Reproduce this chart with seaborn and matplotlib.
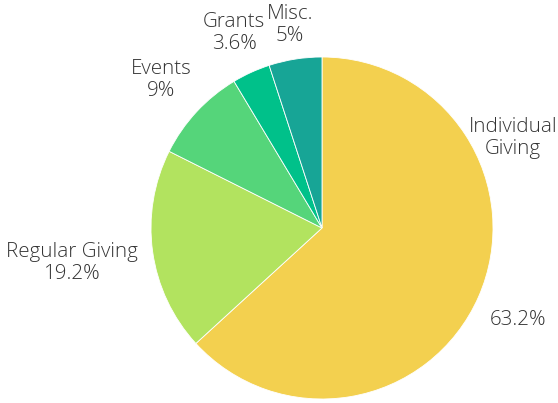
import numpy as np
import matplotlib
matplotlib.use('Agg')
import matplotlib.pyplot as plt
import seaborn as sns

# --- data ---
categories = ['Individual Giving', 'Regular Giving', 'Events', 'Grants', 'Misc.']
shares = [63.2, 19.2, 9, 3.6, 5]
pct_labels = ['63.2%', '19.2%', '9%', '3.6%', '5%']
colors = ['#F3D04F', '#B2E35F', '#55D57A', '#00C18A', '#17A596']

sns.set_style("white")
plt.rcParams['font.family'] = ['Open Sans', 'DejaVu Sans']

fig = plt.figure(figsize=(5.58, 4.03), dpi=100)
ax = fig.add_axes([0, 0, 1, 1])

wedges, _ = ax.pie(shares, colors=colors, startangle=90, counterclock=False,
                   radius=1, wedgeprops=dict(edgecolor='white', linewidth=0.6))

# label placement (radius, angle nudge in degrees) per slice
label_r = [1.266, 1.476, 1.279, 1.251, 1.202]
label_nudge = [-1.3, 0, 0.2, -0.2, 0]
txt_kw = dict(ha='center', va='center', fontsize=14.8, color='#333333',
              fontweight='light', linespacing=1.15)

for i, w in enumerate(wedges):
    a = np.deg2rad((w.theta1 + w.theta2) / 2 + label_nudge[i])
    x, y = label_r[i] * np.cos(a), label_r[i] * np.sin(a)
    if i == 0:
        # percentage near the slice, name placed above on the right
        ax.text(x, y, pct_labels[i], **txt_kw)
        ax.text(1.117, 0.526, 'Individual\nGiving', **txt_kw)
    else:
        ax.text(x, y, f'{categories[i]}\n{pct_labels[i]}', **txt_kw)

ax.set_xlim(-322 / 171, (558 - 322) / 171)
ax.set_ylim(-(403 - 228) / 171, 228 / 171)
ax.set_aspect('equal')
ax.axis('off')

plt.savefig('out.png', dpi=100)
